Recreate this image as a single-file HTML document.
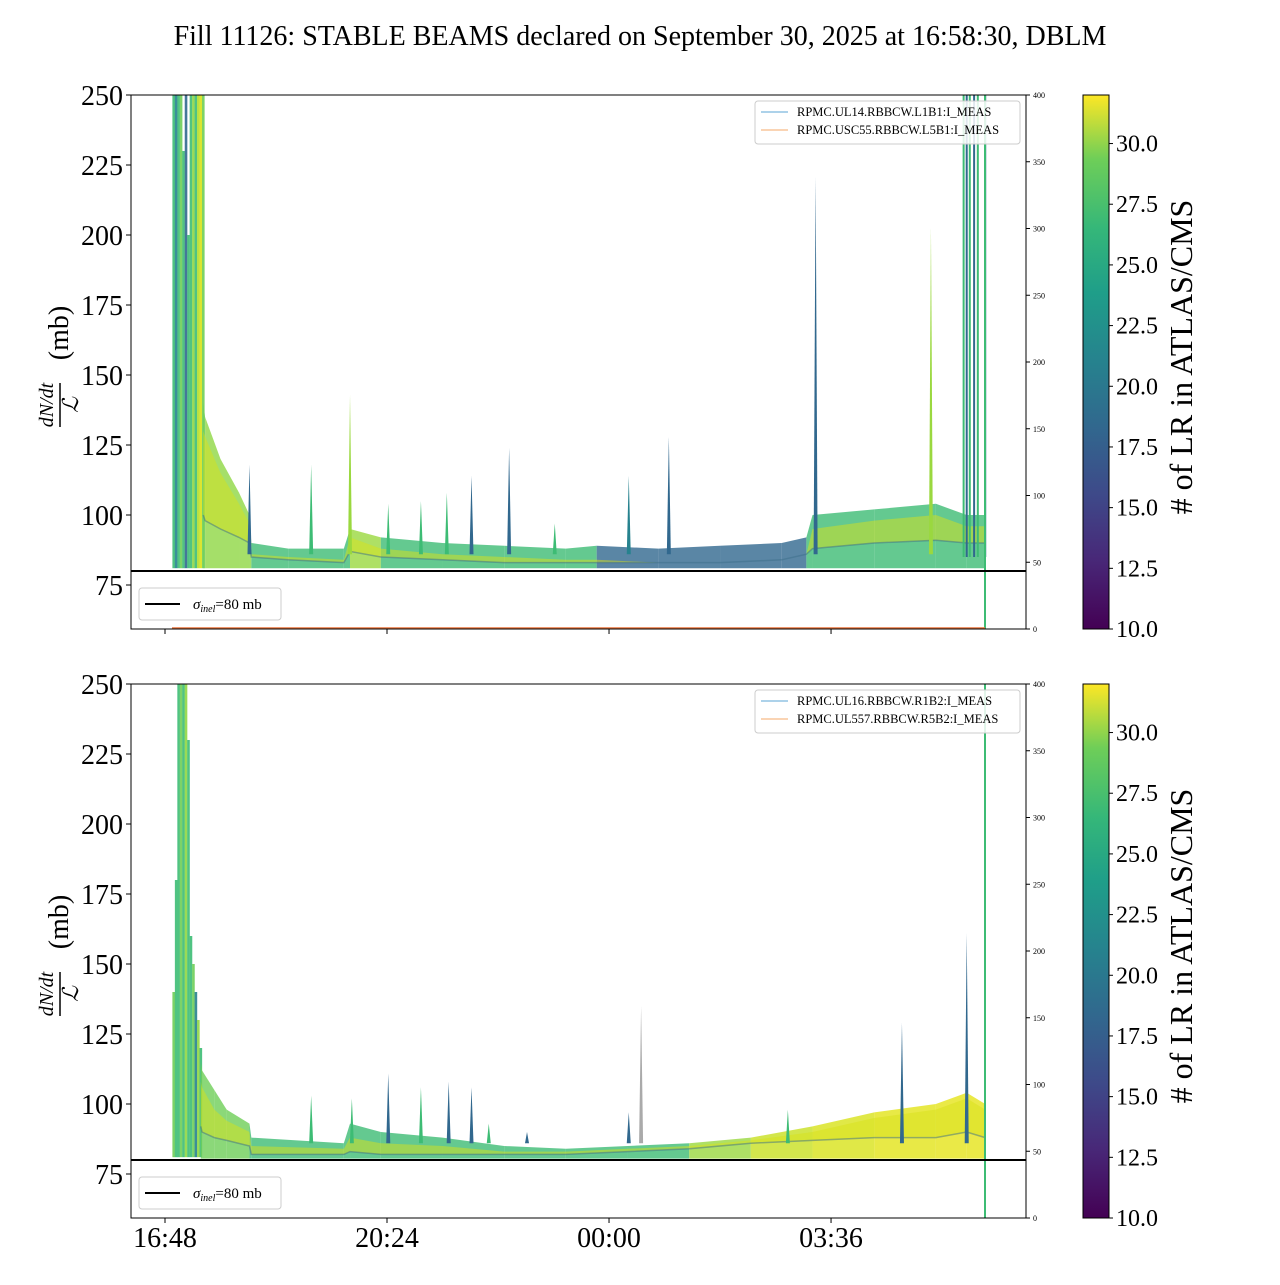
<!DOCTYPE html>
<html><head><meta charset="utf-8">
<style>
body{margin:0;background:#fff;}
svg text{font-family:"Liberation Serif",serif;}
</style></head>
<body>
<svg id="chart" width="1280" height="1280" viewBox="0 0 1280 1280" xmlns="http://www.w3.org/2000/svg">
<defs>
<linearGradient id="viridis" x1="0" y1="1" x2="0" y2="0">
<stop offset="0" stop-color="#440154"/><stop offset="0.13" stop-color="#482878"/>
<stop offset="0.25" stop-color="#3e4989"/><stop offset="0.38" stop-color="#31688e"/>
<stop offset="0.5" stop-color="#26828e"/><stop offset="0.63" stop-color="#1f9e89"/>
<stop offset="0.75" stop-color="#35b779"/><stop offset="0.88" stop-color="#6ece58"/>
<stop offset="1" stop-color="#fde725"/></linearGradient>
<clipPath id="clip0"><rect x="131" y="95" width="895" height="534"/></clipPath>
<clipPath id="clip1"><rect x="131" y="684" width="895" height="533"/></clipPath>
</defs>
<text x="640" y="45" font-size="28" text-anchor="middle">Fill 11126: STABLE BEAMS declared on September 30, 2025 at 16:58:30, DBLM</text>
<g id="root"></g>
</svg>
<script>
// data (hours since 16:48)
const xTickLabels = ["16:48","20:24","00:00","03:36"];
const xTickHours = [0, 3.6, 7.2, 10.8];
const yTicks = [75,100,125,150,175,200,225,250];
const rTicks = [0,50,100,150,200,250,300,350,400];
const cbTicks = [10.0,12.5,15.0,17.5,20.0,22.5,25.0,27.5,30.0];

const burstT1 = [0.12,0.16,0.2,0.24,0.28,0.32,0.36,0.4,0.44,0.48,0.52,0.56,0.6];
const burstV1 = [250,250,250,250,230,250,200,250,250,250,250,250,250];
const burstC1 = ["#3dbc74","#26828e","#3dbc74","#6ece58","#3dbc74","#31688e","#3dbc74","#3dbc74","#8fd744","#3dbc74","#b5de2b","#d8e219","#6ece58"];
const T1 = [0.62,0.65,0.9,1.2,1.37,1.4,2.0,2.9,3.0,3.5,4.5,5.5,6.5,7.0,8.0,9.0,10.0,10.4,10.5,11.5,12.5,13.0,13.3];
const U1 = [140,135,120,108,100,90,88,88,95,92,90,89,88,89,88,89,90,92,100,102,104,100,100];
const Y1 = [130,128,115,104,97,86,85,84,92,88,86,85,84,84,83,83,84,86,95,98,100,96,96];
const M1 = [100,98,95,92,90,85,84,83,87,85,84,83,83,83,83,83,84,86,88,90,91,90,90];
const L1 = [81,81,81,81,81,81,81,81,81,81,81,81,81,81,81,81,81,81,81,81,81,81,81];
const C1 = ["#6ece58","#8fd744","#8fd744","#8fd744","#8fd744","#3dbc74","#3dbc74","#3dbc74","#9ad83f","#3dbc74","#3dbc74","#3dbc74","#3dbc74","#31688e","#31688e","#31688e","#31688e","#3dbc74","#3dbc74","#3dbc74","#3dbc74","#3dbc74","#3dbc74"];
const spikeT1 = [1.37,2.37,3.0,3.62,4.15,4.57,4.97,5.58,6.32,7.52,8.17,10.55,12.42];
const spikeV1 = [118,118,143,104,105,108,114,124,97,114,128,221,203];
const spikeC1 = ["#31688e","#3dbc74","#9ad83f","#3dbc74","#3dbc74","#3dbc74","#31688e","#31688e","#3dbc74","#26828e","#31688e","#31688e","#9ad83f"];
const tallT1 = [12.95,13.0,13.05,13.12,13.18,13.3];

const burstT2 = [0.12,0.16,0.2,0.24,0.28,0.32,0.36,0.4,0.44,0.48,0.52,0.56];
const burstV2 = [140,180,250,250,250,250,230,160,150,140,130,120];
const burstC2 = ["#6ece58","#3dbc74","#3dbc74","#6ece58","#3dbc74","#8fd744","#3dbc74","#3dbc74","#6ece58","#26828e","#8fd744","#3dbc74"];
const T2 = [0.58,0.6,0.8,1.0,1.37,1.4,2.9,3.0,3.5,4.5,5.5,6.5,7.5,8.5,9.5,10.5,11.5,12.5,13.0,13.3];
const U2 = [115,112,105,98,93,88,86,93,90,88,85,84,85,86,88,92,97,100,104,100];
const Y2 = [108,106,98,94,90,85,84,88,86,85,83,83,84,85,87,90,95,98,102,98];
const M2 = [92,90,88,87,85,82,82,83,82,82,82,82,83,84,86,87,88,88,90,88];
const L2 = [80.5,80.5,80.5,80.5,80.5,80.5,80.5,80.5,80.5,80.5,80.5,80.5,80.5,80.5,80.5,80.5,80.5,80.5,80.5,80.5];
const C2 = ["#6ece58","#6ece58","#6ece58","#6ece58","#3dbc74","#3dbc74","#3dbc74","#3dbc74","#3dbc74","#3dbc74","#3dbc74","#3dbc74","#3dbc74","#9ad83f","#c8e020","#d8e219","#e2e418","#e5e419","#e5e419","#e5e419"];
const spikeT2 = [2.37,3.03,3.62,4.15,4.6,4.97,5.25,5.87,7.52,7.72,10.1,11.95,13.0];
const spikeV2 = [103,102,111,106,108,106,93,90,97,135,98,129,161];
const spikeC2 = ["#3dbc74","#3dbc74","#31688e","#3dbc74","#31688e","#31688e","#3dbc74","#31688e","#31688e","#aaa","#3dbc74","#31688e","#31688e"];

const NS='http://www.w3.org/2000/svg';
const root=document.getElementById('root');
function mk(tag,attrs,parent){const e=document.createElementNS(NS,tag);for(const k in attrs)e.setAttribute(k,attrs[k]);(parent||root).appendChild(e);return e;}
const X0=131,X1=1026,PXH=61.67,HX=165;
function xs(h){return HX+h*PXH;}

function panel(top,bT,bV,bC,T,U,Y,M,L,C,sT,sV,sC,tall,legendNames,idx){
  const H=534;
  const ys=v=>top+(250-v)*2.8;
  const g=mk('g',{'clip-path':'url(#clip'+idx+')'});
  
  
  for(let i=0;i<bT.length;i++){
    const b=mk('rect',{x:xs(bT[i]),y:ys(bV[i]),width:2.6,height:ys(81)-ys(bV[i]),fill:bC[i],opacity:0.9},g);
    
    
  }
  for(let i=0;i<T.length-1;i++){
    const p=mk('polygon',{points:`${xs(T[i])},${ys(U[i])} ${xs(T[i+1])},${ys(U[i+1])} ${xs(T[i+1])},${ys(L[i+1])} ${xs(T[i])},${ys(L[i])}`,fill:C[i],opacity:0.8},g);
    
    
  }
  let yp=[],mp=[];
  for(let i=0;i<T.length;i++)yp.push(xs(T[i])+','+ys(Y[i]));
  for(let i=T.length-1;i>=0;i--)yp.push(xs(T[i])+','+ys(M[i]));
  const yb=mk('polygon',{points:yp.join(' '),fill:'#d8e219',opacity:0.5},g);
  
  
  for(let i=0;i<T.length;i++)mp.push(xs(T[i])+','+ys(M[i]));
  const ml=mk('polyline',{points:mp.join(' '),fill:'none',stroke:'#3b6e8a','stroke-width':1.5,opacity:0.5},g);
  
  
  for(let i=0;i<sT.length;i++){
    const x=xs(sT[i]);
    const s=mk('polygon',{points:`${x-2},${ys(86)} ${x},${ys(sV[i])} ${x+2},${ys(86)}`,fill:sC[i]},g);
    
    
  }
  for(let i=0;i<tall.length;i++){
    const l=mk('line',{x1:xs(tall[i]),x2:xs(tall[i]),y1:top,y2:ys(85),stroke:i%2?'#31688e':'#3dbc74','stroke-width':2},g);
    
    
  }
  const gv=mk('line',{x1:985,x2:985,y1:top,y2:top+H,stroke:'#3dbc74','stroke-width':2});
  
  
  if(idx==0){const o=mk('line',{x1:172,x2:985,y1:top+H-1,y2:top+H-1,stroke:'#e8743b','stroke-width':1.5});
    }
  const r=mk('line',{x1:X0,x2:X1,y1:ys(80),y2:ys(80),stroke:'#000','stroke-width':2});
  
  
  const f=mk('rect',{x:X0,y:top,width:X1-X0,height:H,fill:'none',stroke:'#000','stroke-width':1});
  
  
  yTicks.forEach(v=>{const y=ys(v);
    mk('line',{x1:X0-5,x2:X0,y1:y,y2:y,stroke:'#000'});
    const t=mk('text',{x:X0-8,y:y+10,'font-size':28,'text-anchor':'end'});t.textContent=v;
    });
  rTicks.forEach(v=>{const y=top+H-v/400*H;
    mk('line',{x1:X1,x2:X1+4,y1:y,y2:y,stroke:'#000'});
    const t=mk('text',{x:X1+7,y:y+3,'font-size':8});t.textContent=v;
    });
  xTickHours.forEach((h,i)=>{const x=xs(h);
    mk('line',{x1:x,x2:x,y1:top+H,y2:top+H+5,stroke:'#000'});
    if(idx==1){const t=mk('text',{x:x,y:top+H+29,'font-size':28,'text-anchor':'middle'});t.textContent=xTickLabels[i];
      }});
  const yl=mk('g',{transform:`translate(60,${top+270}) rotate(-90)`});
  
  let t=mk('text',{x:-40,y:-7,'font-size':20,'font-style':'italic','text-anchor':'middle'},yl);t.textContent='dN/dt';
  mk('line',{x1:-62,x2:-18,y1:0,y2:0,stroke:'#000','stroke-width':1.5},yl);
  t=mk('text',{x:-40,y:18,'font-size':22,'font-style':'italic','text-anchor':'middle'},yl);t.textContent='ℒ';
  t=mk('text',{x:32,y:8,'font-size':28,'text-anchor':'middle'},yl);t.textContent='(mb)';
  const lg=mk('g',{});
  mk('rect',{x:755,y:top+6,width:265,height:43,rx:3,fill:'#fff','fill-opacity':0.85,stroke:'#ccc'},lg);
  ['#5ba4d6','#f4a869'].forEach((c,i)=>{
    mk('line',{x1:761,x2:788,y1:top+17+i*18,y2:top+17+i*18,stroke:c,'stroke-width':1},lg);
    const tt=mk('text',{x:797,y:top+21+i*18,'font-size':12.5},lg);tt.textContent=legendNames[i];
    });
  const sl=mk('g',{});
  mk('rect',{x:139,y:top+493,width:142,height:32,rx:3,fill:'#fff',stroke:'#ccc'},sl);
  mk('line',{x1:145,x2:180,y1:top+509,y2:top+509,stroke:'#000','stroke-width':2},sl);
  const st=mk('text',{x:193,y:top+514,'font-size':15},sl);
  st.innerHTML='<tspan font-style="italic">σ</tspan><tspan font-style="italic" font-size="10" dy="3">inel</tspan><tspan dy="-3">=80 mb</tspan>';
  const cb=mk('g',{});
  mk('rect',{x:1083,y:top,width:26,height:H,fill:'url(#viridis)',stroke:'#000','stroke-width':1},cb);
  cbTicks.forEach(v=>{const y=top+H-(v-10)/22*H;
    mk('line',{x1:1109,x2:1113,y1:y,y2:y,stroke:'#000'},cb);
    const tt=mk('text',{x:1116,y:y+8,'font-size':24},cb);tt.textContent=v.toFixed(1);});
  const ct=mk('text',{transform:`translate(1192,${top+262}) rotate(-90)`,'font-size':32,'text-anchor':'middle'});
  ct.textContent='# of LR in ATLAS/CMS';
  
}
panel(95,burstT1,burstV1,burstC1,T1,U1,Y1,M1,L1,C1,spikeT1,spikeV1,spikeC1,tallT1,["RPMC.UL14.RBBCW.L1B1:I_MEAS","RPMC.USC55.RBBCW.L5B1:I_MEAS"],0);
panel(684,burstT2,burstV2,burstC2,T2,U2,Y2,M2,L2,C2,spikeT2,spikeV2,spikeC2,[],["RPMC.UL16.RBBCW.R1B2:I_MEAS","RPMC.UL557.RBBCW.R5B2:I_MEAS"],1);
</script>
</body></html>
